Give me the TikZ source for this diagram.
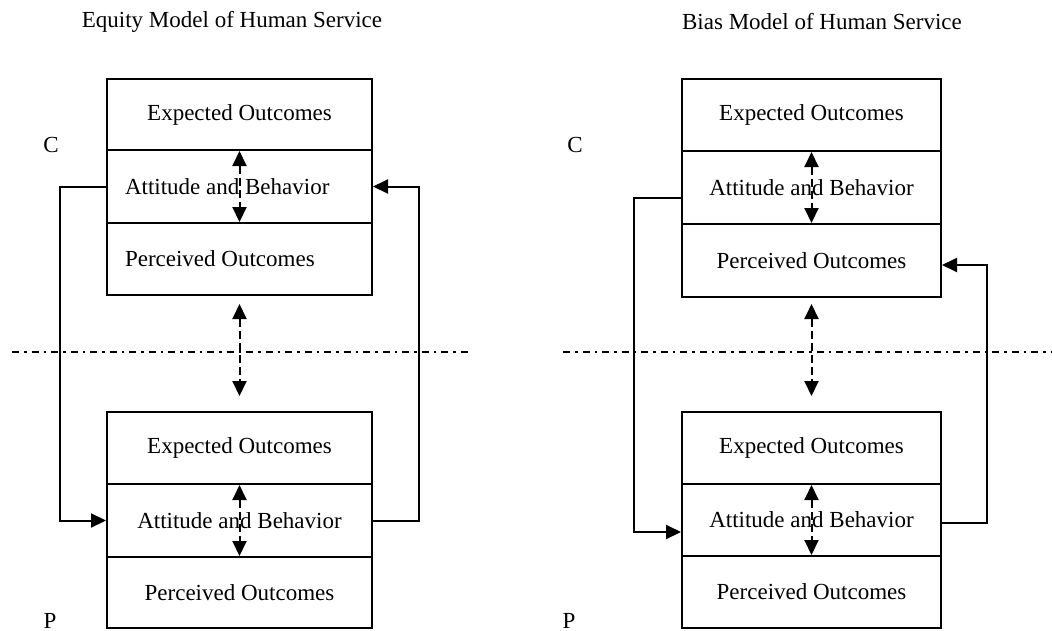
\documentclass[tikz,border=0pt]{standalone}
\usepackage{fontspec}
\setmainfont{Liberation Serif}
\usetikzlibrary{arrows.meta,calc}
\newcommand{\flushtext}[1]{\makebox[229pt][l]{#1}}
\begin{document}
\begin{tikzpicture}[x=1pt,y=-1pt,
  every node/.style={font=\fontsize{23}{27}\selectfont},
  cell/.style={draw,line width=2pt,inner sep=0pt,anchor=center,align=center},
  tip/.style={-{Triangle[length=15pt,width=14pt]}},
  link/.style={tip,line width=2pt},
  twoway/.style={{Triangle[length=15pt,width=14pt]}-{Triangle[length=15pt,width=14pt]},line width=2pt,dash pattern=on 8pt off 4pt},
  divider/.style={line width=1.6pt,dash pattern=on 7pt off 5pt on 2.5pt off 5pt},
  tag/.style={anchor=center}]
\useasboundingbox (0,0) rectangle (1052,630);

% titles and side labels
\node[tag] (t1) at (232,22) {Equity Model of Human Service};
\node[tag] (t2) at (822,22) {Bias Model of Human Service};
\node[tag] (c1) at (51,145) {C};
\node[tag] (p1) at (50,621) {P};
\node[tag] (c2) at (575,145) {C};
\node[tag] (p2) at (569,621) {P};

% equity model, upper stack
\node[cell,minimum width=265pt,minimum height=71pt] (lE) at (239.5,114.5) {Expected Outcomes};
\node[cell,minimum width=265pt,minimum height=73pt] (lA) at (239.5,186.5) {\flushtext{Attitude and Behavior}};
\node[cell,minimum width=265pt,minimum height=72pt] (lP) at (239.5,259) {\flushtext{Perceived Outcomes}};
% equity model, lower stack
\node[cell,minimum width=265pt,minimum height=72pt] (lE2) at (239.5,448) {Expected Outcomes};
\node[cell,minimum width=265pt,minimum height=73pt] (lA2) at (239.5,520.5) {Attitude and Behavior};
\node[cell,minimum width=265pt,minimum height=71pt] (lP2) at (239.5,592.5) {Perceived Outcomes};

% bias model, upper stack
\node[cell,minimum width=259pt,minimum height=72pt] (rE) at (811.5,115) {Expected Outcomes};
\node[cell,minimum width=259pt,minimum height=73pt] (rA) at (811.5,187.5) {Attitude and Behavior};
\node[cell,minimum width=259pt,minimum height=73pt] (rP) at (811.5,260.5) {Perceived Outcomes};
% bias model, lower stack
\node[cell,minimum width=259pt,minimum height=72pt] (rE2) at (811.5,448) {Expected Outcomes};
\node[cell,minimum width=259pt,minimum height=72pt] (rA2) at (811.5,520) {Attitude and Behavior};
\node[cell,minimum width=259pt,minimum height=72pt] (rP2) at (811.5,592) {Perceived Outcomes};

% dash-dot dividers between C and P
\coordinate (d1a) at (12,352);
\coordinate (d1b) at (468,352);
\coordinate (d2a) at (563,352);
\coordinate (d2b) at (1052,352);
\draw[divider] (d1a) -- (d1b);
\draw[divider] (d2a) -- (d2b);

% two-way dashed arrows
\draw[twoway] (lE.south) -- (lP.north);
\draw[twoway] (lE2.south) -- (lP2.north);
\draw[twoway,shorten <=8pt,shorten >=15pt] (lP.south) -- (lE2.north);
\draw[twoway] (rE.south) -- (rP.north);
\draw[twoway] (rE2.south) -- (rP2.north);
\draw[twoway,shorten <=6pt,shorten >=15pt] (rP.south) -- (rE2.north);

% equity model feedback loops
\coordinate (lx) at (60,0);
\coordinate (rx) at (419,0);
\draw[link] (lA.west) -- (lA.west -| lx) |- (lA2.west);
\draw[link] (lA2.east) -- (lA2.east -| rx) |- (lA.east);

% bias model feedback loops
\coordinate (lx2) at (634,0);
\coordinate (rx2) at (987,0);
\coordinate (rAo) at ($(rA.west)+(0,10)$);
\coordinate (rA2i) at ($(rA2.west)+(0,12)$);
\coordinate (rA2o) at ($(rA2.east)+(0,3)$);
\coordinate (rPi) at ($(rP.east)+(0,4.5)$);
\draw[link] (rAo) -- (rAo -| lx2) |- (rA2i);
\draw[link] (rA2o) -- (rA2o -| rx2) |- (rPi);
\end{tikzpicture}
\end{document}
